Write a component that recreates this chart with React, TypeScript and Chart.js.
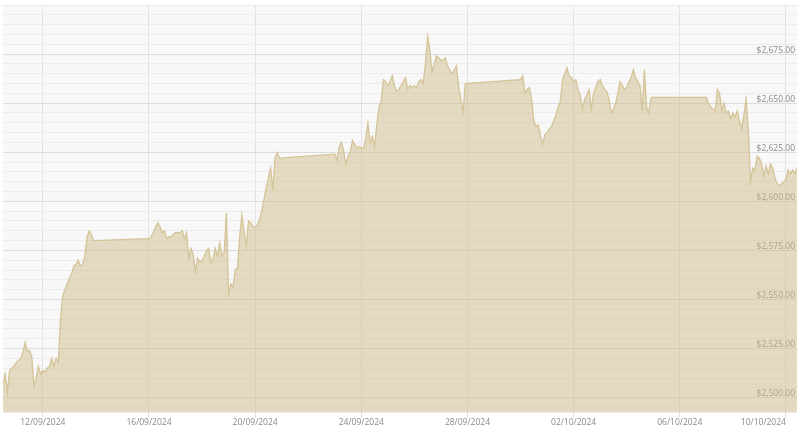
import React, { useEffect, useRef } from 'react';
import { Chart, registerables } from 'chart.js';

Chart.register(...registerables);

// gold spot price, USD / oz, sampled every 2 hours while the market is open
const STEP_HOURS = 2;
const sessionStarts = ['2024-09-10T12:00Z', '2024-09-16T00:00Z', '2024-09-23T00:00Z', '2024-09-30T00:00Z', '2024-10-07T00:00Z'];

const week1 = [
    2507, 2512, 2503, 2514, 2515, 2516, 2518, 2519, 2520, 2523, 2528, 2524,
    2524, 2521, 2506, 2510, 2516, 2512, 2514, 2513, 2515, 2516, 2520, 2516,
    2520, 2518, 2540, 2552, 2555, 2558, 2561, 2563, 2567, 2568, 2570, 2567,
    2568, 2572, 2582, 2585, 2583, 2580,
];
const week2 = [
    2581, 2582, 2584, 2587, 2589, 2587, 2584, 2585, 2581, 2582, 2582, 2583,
    2584, 2584, 2584, 2585, 2581, 2584, 2571, 2576, 2573, 2564, 2571, 2569,
    2570, 2572, 2575, 2576, 2569, 2571, 2576, 2572, 2579, 2572, 2574, 2594,
    2553, 2558, 2556, 2565, 2566, 2582, 2593, 2585, 2577, 2590, 2589, 2587,
    2587, 2588, 2591, 2595, 2601, 2607, 2612, 2617, 2606, 2622, 2625, 2622,
];
const week3 = [
    2624, 2621, 2628, 2630, 2626, 2619, 2623, 2625, 2631, 2629, 2627, 2628,
    2627, 2627, 2632, 2640, 2630, 2633, 2628, 2639, 2648, 2651, 2662, 2661,
    2659, 2661, 2664, 2659, 2656, 2657, 2659, 2661, 2663, 2657, 2659, 2658,
    2659, 2658, 2661, 2662, 2660, 2670, 2684, 2677, 2666, 2670, 2674, 2673,
    2672, 2672, 2673, 2669, 2667, 2665, 2667, 2669, 2659, 2652, 2645, 2660,
];
const week4 = [
    2662, 2664, 2655, 2657, 2658, 2652, 2641, 2638, 2639, 2634, 2629, 2634,
    2635, 2637, 2638, 2641, 2644, 2648, 2651, 2662, 2665, 2668, 2664, 2663,
    2661, 2662, 2657, 2654, 2647, 2652, 2654, 2657, 2647, 2655, 2658, 2661,
    2662, 2659, 2657, 2656, 2652, 2645, 2647, 2650, 2655, 2661, 2659, 2657,
    2658, 2661, 2663, 2667, 2663, 2661, 2659, 2646, 2667, 2648, 2645, 2653,
];
const week5 = [
    2653, 2650, 2648, 2647, 2646, 2657, 2655, 2646, 2650, 2645, 2646, 2642,
    2645, 2643, 2646, 2641, 2637, 2644, 2652, 2636, 2610, 2617, 2616, 2623,
    2622, 2619, 2613, 2618, 2614, 2619, 2617, 2612, 2609, 2608, 2609, 2610,
    2611, 2616, 2614, 2616, 2614, 2617,
];
const sessions = [week1, week2, week3, week4, week5];

const DAY_MS = 86400000;
const axisOrigin = Date.UTC(2024, 8, 12); // x axis counts days from 12/09/2024

const toDays = (iso: string) => (Date.parse(iso) - axisOrigin) / DAY_MS;

const fmtDate = (days: number) => {
    const d = new Date(axisOrigin + days * DAY_MS);
    const dd = String(d.getUTCDate()).padStart(2, '0');
    const mm = String(d.getUTCMonth() + 1).padStart(2, '0');
    return `${dd}/${mm}/${d.getUTCFullYear()}`;
};

const fmtPrice = (v: number) =>
    '$' + v.toLocaleString('en-US', { minimumFractionDigits: 2, maximumFractionDigits: 2 });

const plotBackground = {
    id: 'plotBackground',
    beforeDraw(chart: Chart) {
        const { ctx, chartArea } = chart;
        ctx.save();
        ctx.fillStyle = '#f8f8f8';
        ctx.fillRect(chartArea.left, chartArea.top, chartArea.right - chartArea.left, chartArea.bottom - chartArea.top);
        ctx.restore();
    },
};

const labelFont = { family: 'Open Sans', size: 8.5 };

export default function App() {
    const canvasRef = useRef<HTMLCanvasElement | null>(null);

    useEffect(() => {
        document.body.style.margin = '0';
        const canvas = canvasRef.current;
        if (!canvas) return;

        const points = sessions.flatMap((vals, s) =>
            vals.map((y, i) => ({ x: toDays(sessionStarts[s]) + (i * STEP_HOURS) / 24, y })),
        );
        const xMin = points[0].x;

        const chart = new Chart(canvas, {
            type: 'line',
            data: {
                datasets: [
                    {
                        data: points,
                        borderColor: 'rgb(212, 196, 152)',
                        backgroundColor: 'rgba(205, 187, 138, 0.5)',
                        borderWidth: 1.3,
                        pointRadius: 0,
                        tension: 0,
                        fill: 'start',
                    },
                ],
            },
            options: {
                animation: false,
                responsive: true,
                maintainAspectRatio: false,
                layout: { padding: { left: 3, right: 3, top: 5, bottom: 4 } },
                plugins: { legend: { display: false }, tooltip: { enabled: false } },
                scales: {
                    x: {
                        type: 'linear',
                        min: xMin,
                        max: points[points.length - 1].x,
                        border: { display: false },
                        grid: {
                            tickLength: 5,
                            color: (ctx) => (ctx.tick && ctx.tick.value === xMin ? 'rgba(0,0,0,0)' : '#e2e2e2'),
                        },
                        // blank first tick so the last date label can sit right-aligned at the edge
                        afterBuildTicks: (scale) => {
                            scale.ticks = [{ value: xMin }, ...scale.ticks];
                        },
                        ticks: {
                            stepSize: 4,
                            includeBounds: false,
                            autoSkip: false,
                            maxRotation: 0,
                            align: 'inner',
                            padding: 0,
                            color: '#8a8a8a',
                            font: labelFont,
                            callback: (v) => (Number(v) === xMin ? '' : fmtDate(Number(v))),
                        },
                    },
                    y: {
                        position: 'right',
                        min: 2492.3,
                        max: 2700,
                        border: { display: false },
                        grid: {
                            drawTicks: false,
                            color: (ctx) => (ctx.tick.value % 25 === 0 && ctx.tick.value < 2700 ? '#dcdcdc' : '#ececec'),
                        },
                        ticks: {
                            stepSize: 5,
                            includeBounds: false,
                            autoSkip: false,
                            mirror: true,
                            padding: -2,
                            labelOffset: -4,
                            color: '#8a8a8a',
                            font: labelFont,
                            callback: (v) => {
                                const n = Number(v);
                                return n % 25 === 0 && n < 2700 ? fmtPrice(n) : '';
                            },
                        },
                    },
                },
            },
            plugins: [plotBackground],
        });

        return () => chart.destroy();
    }, []);

    return (
        <div style={{ width: 800, height: 432, background: '#fff' }}>
            <canvas ref={canvasRef} />
        </div>
    );
}
